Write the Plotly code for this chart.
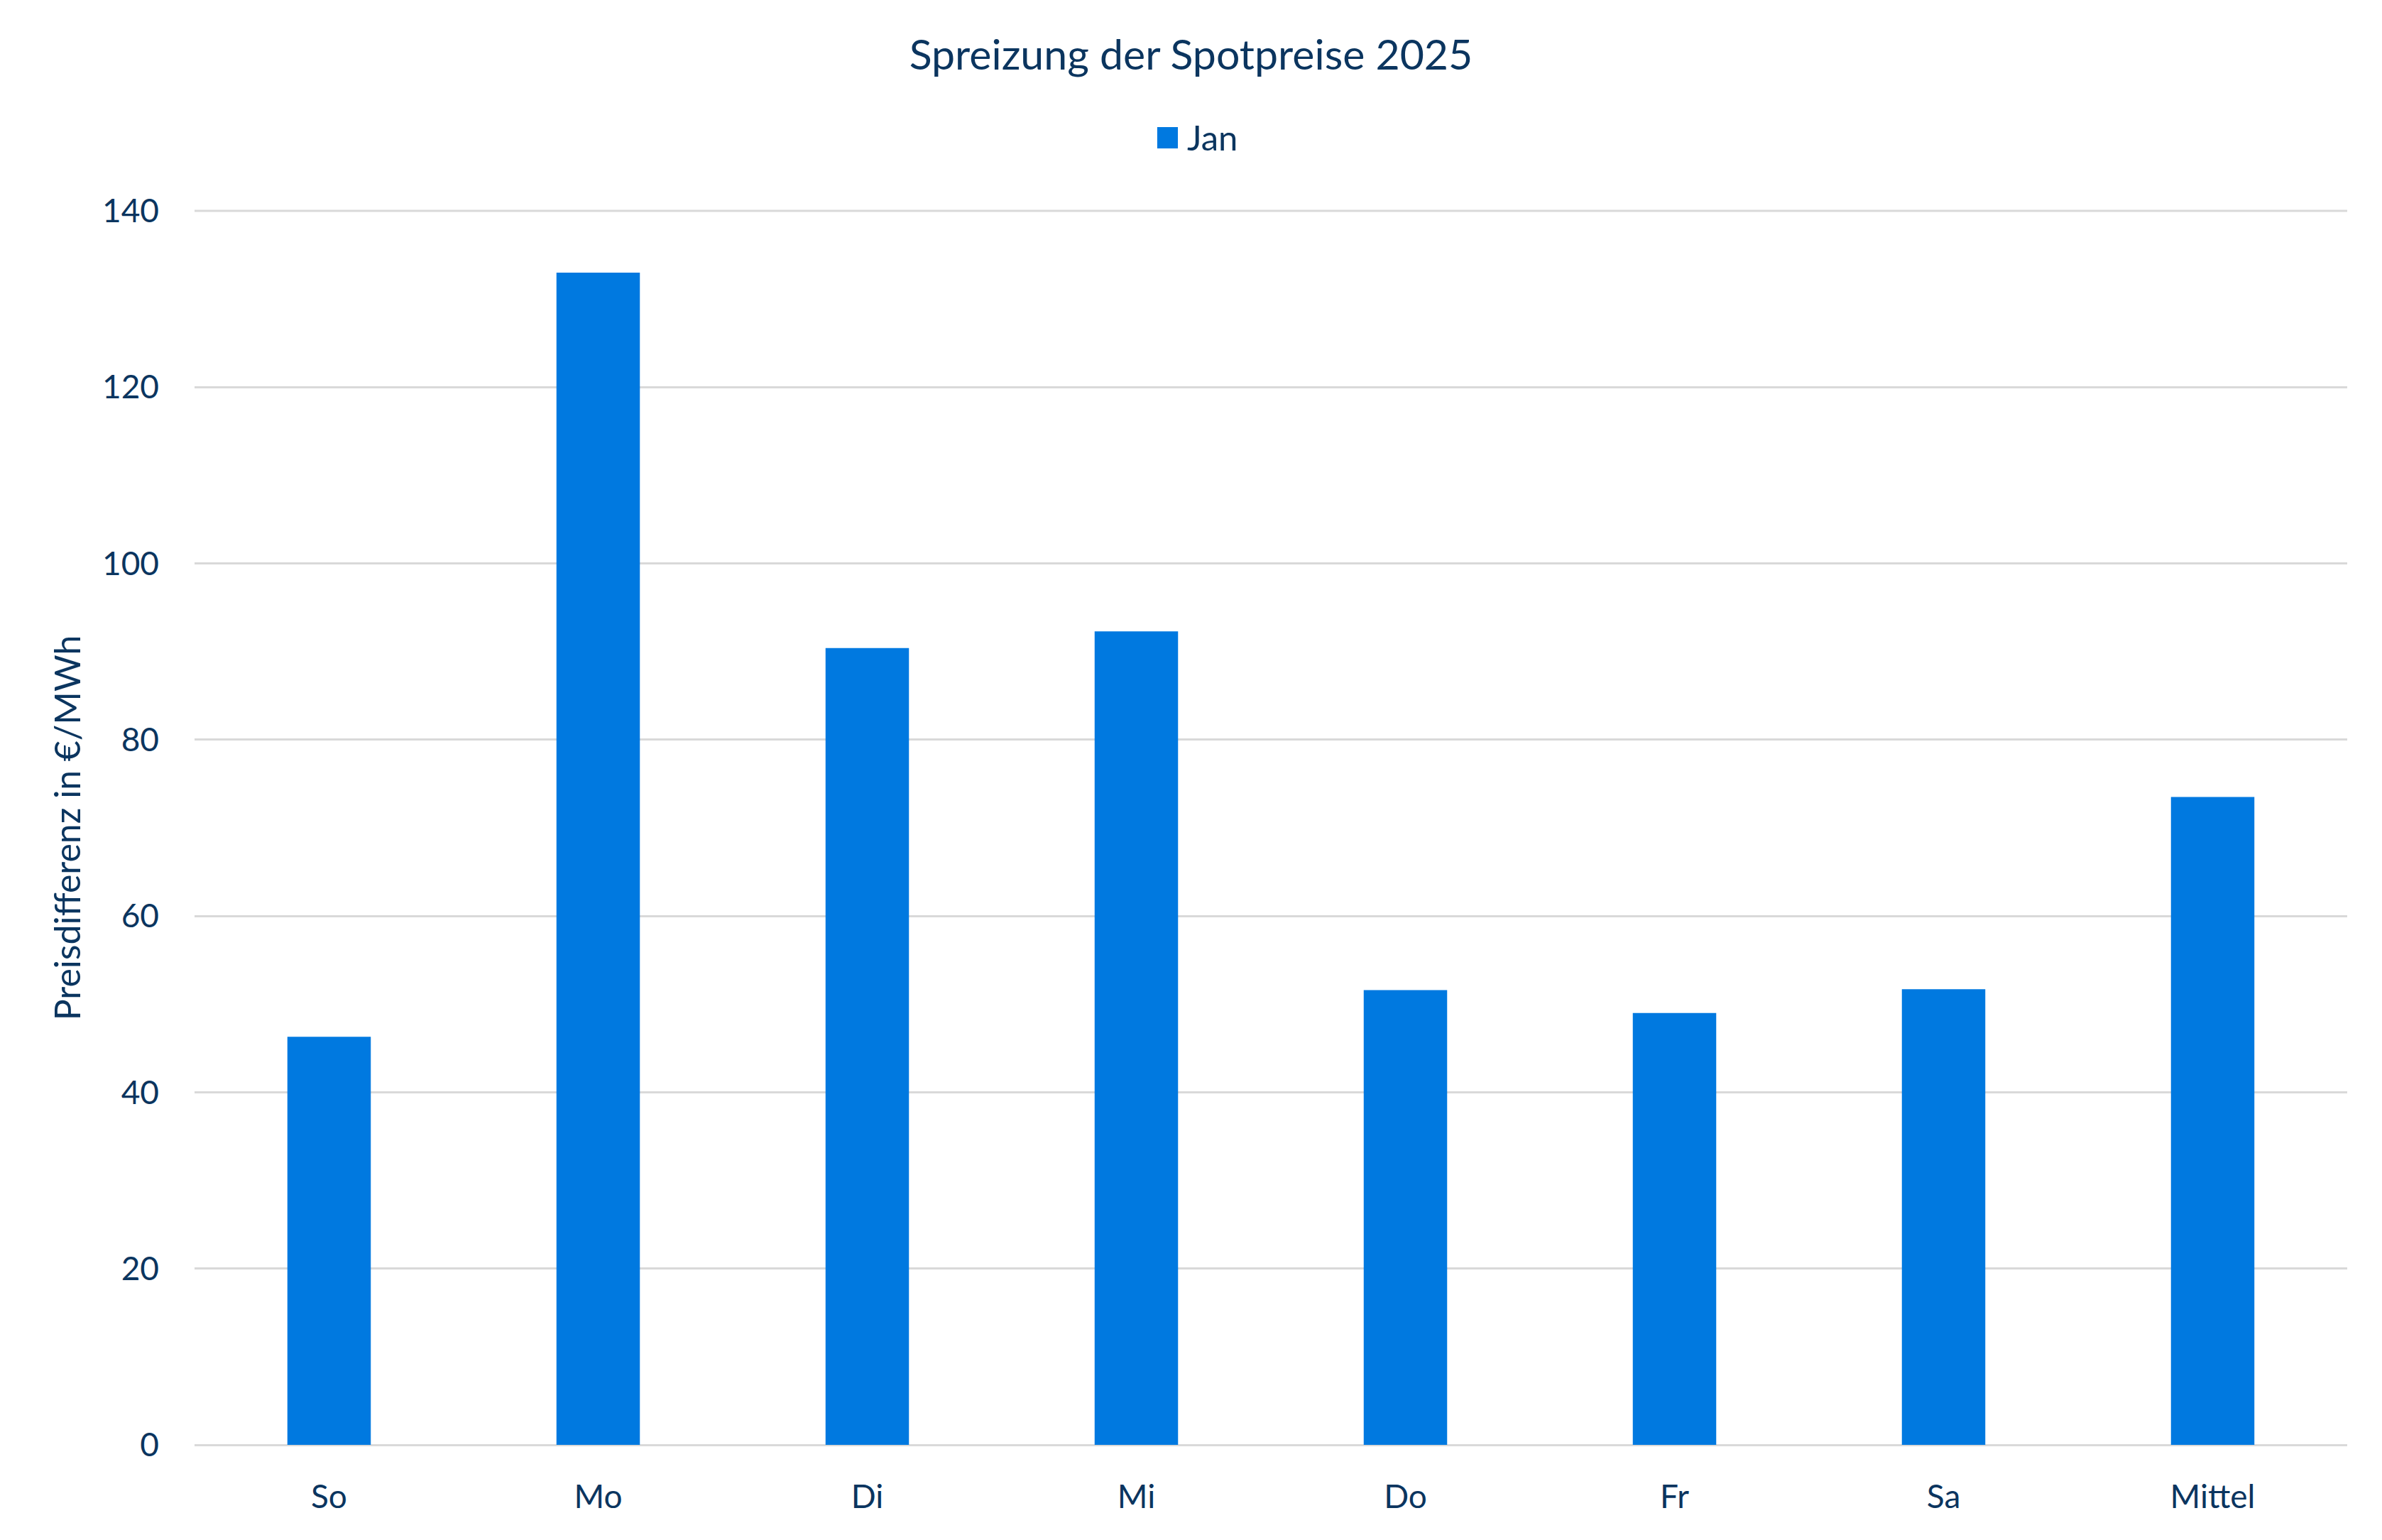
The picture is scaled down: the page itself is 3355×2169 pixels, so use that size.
import plotly.graph_objects as go

categories = ["So", "Mo", "Di", "Mi", "Do", "Fr", "Sa", "Mittel"]
jan_values = [46.3, 133.0, 90.4, 92.3, 51.6, 49.0, 51.7, 73.5]
y_ticks = [0, 20, 40, 60, 80, 100, 120, 140]
series_name = "Jan"

TEXT = "#0b355f"
BAR = "#0079e0"
GRID = "#d9d9d9"
FONT = "Lato"

fig = go.Figure()
fig.add_trace(go.Bar(
    x=categories, y=jan_values, name=series_name, showlegend=False,
    marker=dict(color=BAR, line=dict(width=0)),
    width=0.31,
))

# top gridline (plotly drops the gridline that sits on the edge of the range)
fig.add_shape(type="line", xref="paper", yref="paper", x0=0, x1=1, y0=1, y1=1,
              line=dict(color=GRID, width=3), layer="below")

# legend: square key + label
fig.add_shape(type="rect", xref="paper", yref="paper",
              x0=0.4472, x1=0.4568, y0=1.0506, y1=1.0679,
              fillcolor=BAR, line=dict(width=0))
fig.add_annotation(text=series_name, xref="paper", yref="paper",
                   x=0.4605, y=1.0600, xanchor="left", yanchor="middle",
                   showarrow=False, font=dict(size=49, color=TEXT, family=FONT))

fig.update_layout(
    width=3355, height=2169,
    paper_bgcolor="white", plot_bgcolor="white",
    margin=dict(l=274, r=49, t=297, b=134),
    font=dict(family=FONT, color=TEXT, size=46),
    title=dict(text="Spreizung der Spotpreise 2025", x=0.5, xanchor="center",
               y=1 - 77 / 2169, yanchor="middle", yref="container",
               font=dict(size=59, color=TEXT, family=FONT)),
    showlegend=False,
    xaxis=dict(showgrid=False, showline=False, ticks="", ticklabelstandoff=42,
               tickfont=dict(size=46, color=TEXT)),
    yaxis=dict(range=[0, 140], tickvals=y_ticks, showgrid=True, gridcolor=GRID,
               gridwidth=3, zeroline=True, zerolinecolor=GRID, zerolinewidth=3,
               showline=False, ticks="", ticklabelstandoff=49,
               tickfont=dict(size=46, color=TEXT),
               title=dict(text="Preisdifferenz in €/MWh", standoff=14,
                          font=dict(size=50, color=TEXT))),
)

fig.write_html("out.html")
